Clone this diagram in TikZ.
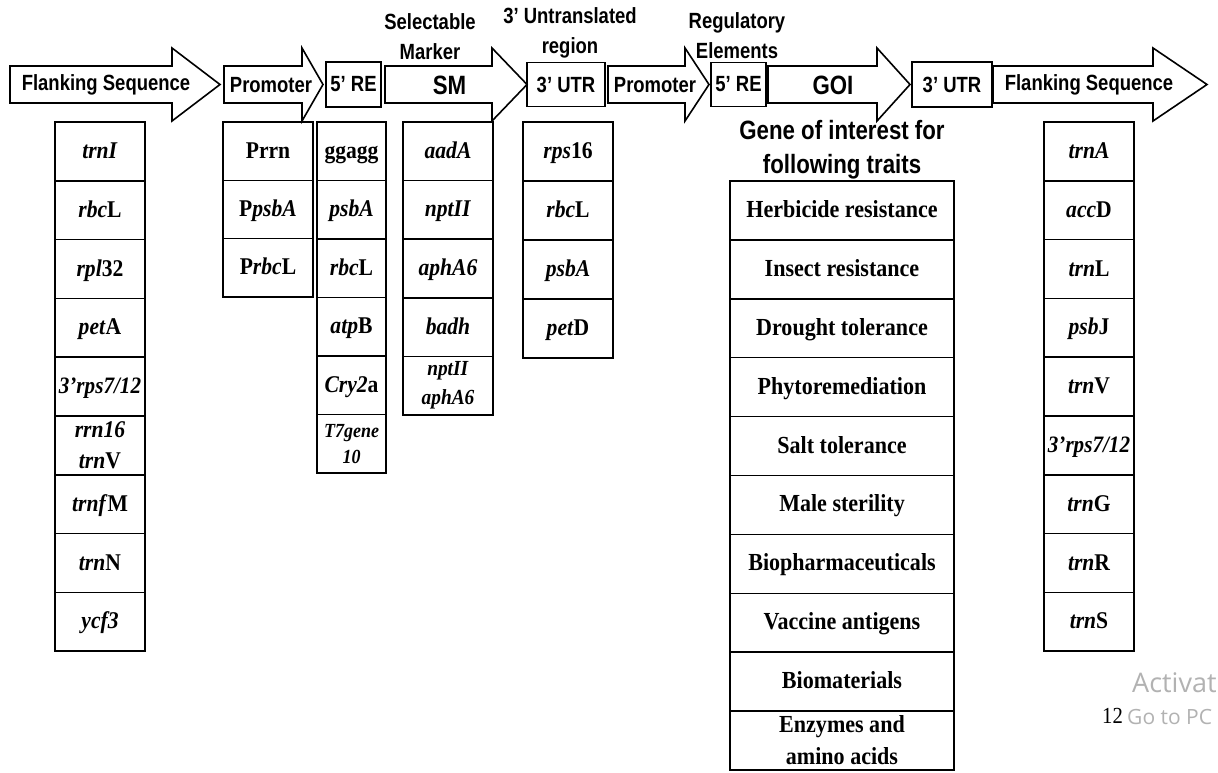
\documentclass[tikz,border=0pt]{standalone}
\usepackage{fontspec}
\setmainfont[FakeStretch=0.9]{Liberation Serif}
\newfontfamily\arialn[FakeStretch=0.84]{Liberation Sans}
\newfontfamily\wmfont{Open Sans}
\begin{document}
\begin{tikzpicture}[x=1pt,y=-1pt,
  cell/.style={draw, line width=1.5pt, minimum width=#1, inner sep=0pt, align=center,
    font=\fontsize{24}{31}\selectfont\bfseries},
  cell/.default=90pt,
  one/.style={text height=17.5pt, text depth=3.5pt},
  arr/.style={draw, line width=1.6pt, fill=white, line join=miter},
  lab/.style={inner sep=0pt, align=center, font=\arialn\bfseries\fontsize{22}{22}\selectfont},
  biglab/.style={inner sep=0pt, align=center, font=\arialn\bfseries\fontsize{26.5}{26.5}\selectfont},
  toplab/.style={inner sep=0pt, align=center, font=\arialn\bfseries\fontsize{22}{30}\selectfont},
  rebox/.style={draw, line width=1.6pt, inner sep=0pt, font=\arialn\bfseries\fontsize{22}{22}\selectfont}]
\useasboundingbox (0,0) rectangle (1218,772);
\fill[white] (0,0) rectangle (1218,772);

% ---------- top row of arrows and boxes ----------
\newcommand\genearrow[3]{\draw[arr] (#1,66) -- (#2,66) -- (#2,48) -- (#3,84.5) -- (#2,121) -- (#2,103) -- (#1,103) -- cycle;}
\genearrow{10}{172}{220}
\node[lab] (fs1) at (106,85) {Flanking Sequence};
\genearrow{224}{302}{323}
\node[lab] (pr1) at (271,85) {Promoter};
\node[rebox, minimum width=55pt, minimum height=45pt] (re1) at (353.5,84.5) {5’ RE};
\genearrow{385}{492}{527}
\node[biglab] (sm) at (449.5,85) {SM};
\node[rebox, minimum width=78pt, minimum height=44pt] (utr1) at (566,84.5) {3’ UTR};
\genearrow{608}{685}{709}
\node[lab] (pr2) at (655,85) {Promoter};
\node[rebox, minimum width=55pt, minimum height=44pt] (re2) at (738.5,84.5) {5’ RE};
\genearrow{768}{877}{910}
\node[biglab] (goi) at (833,85) {GOI};
\node[rebox, minimum width=80pt, minimum height=45pt] (utr2) at (952,84.5) {3’ UTR};
\genearrow{993}{1153}{1207}
\node[lab] (fs2) at (1089,85) {Flanking Sequence};

% ---------- labels above ----------
\node[toplab] (tsm) at (430,37) {Selectable\\Marker};
\node[toplab] (tutr) at (570,33) {3’ Untranslated\\region};
\node[toplab] (treg) at (737,36) {Regulatory\\Elements};

% ---------- column 1: flanking sequences ----------
\foreach \t [count=\i] in {{\textit{trnI}},{\textit{rbc}L},{\textit{rpl}32},{\textit{pet}A},
  {\fontsize{23.5}{30}\selectfont\textit{3’rps7/12}},{\textit{trnf}M},{\textit{trn}N},{\textit{ycf3}}}
  \node[cell, one, minimum height=58.8pt] (fa\i) at (100,{122+58.8*(\i-0.5+int(\i/6))}) {\t};
\node[cell, minimum height=58.8pt] (fa9) at (100,445.4) {\textit{rrn16}\\\textit{trn}V};

% ---------- column 2: promoters ----------
\foreach \t [count=\i] in {{Prrn},{P\textit{psbA}},{P\textit{rbc}L}}
  \node[cell, one, minimum height=58.3pt] (pa\i) at (268,{122+58.3*(\i-0.5)}) {\t};

% ---------- column 3: 5' RE ----------
\foreach \t [count=\i] in {{ggagg},{\textit{psbA}},{\textit{rbc}L},{\textit{atp}B},{\textit{Cry2}a}}
  \node[cell=69pt, one, minimum height=58.5pt] (ra\i) at (351.5,{122+58.5*(\i-0.5)}) {\t};
\node[cell=69pt, minimum height=58.5pt, font=\fontsize{20}{26}\selectfont\bfseries] (ra6) at (351.5,443.75) {\textit{T7gene}\\\textit{10}};

% ---------- column 4: selectable markers ----------
\foreach \t [count=\i] in {{\textit{aadA}},{\textit{nptII}},{\textit{aphA6}},{\textit{badh}}}
  \node[cell, one, minimum height=58.6pt] (sa\i) at (448,{122+58.6*(\i-0.5)}) {\t};
\node[cell, minimum height=58.6pt, font=\fontsize{21.5}{29}\selectfont\bfseries] (sa5) at (448,385.7) {\textit{nptII}\\\textit{aphA6}};

% ---------- column 5: 3' UTR ----------
\foreach \t [count=\i] in {{\textit{rps}16},{\textit{rbc}L},{\textit{psbA}},{\textit{pet}D}}
  \node[cell, one, minimum height=59pt] (ua\i) at (568,{122+59*(\i-0.5)}) {\t};

% ---------- column 6: genes of interest ----------
\node[biglab, font=\arialn\bfseries\fontsize{26.5}{34}\selectfont] (gtitle) at (842,150) {Gene of interest for\\following traits};
\foreach \t [count=\i] in {{Herbicide resistance},{Insect resistance},{Drought tolerance},{Phytoremediation},
  {Salt tolerance},{Male sterility},{Biopharmaceuticals},{Vaccine antigens},{Biomaterials}}
  \node[cell=224pt, one, minimum height=58.9pt, font=\fontsize{24.5}{30}\selectfont\bfseries] (ga\i) at (842,{181+58.9*(\i-0.5)}) {\t};
\node[cell=224pt, minimum height=58.9pt, font=\fontsize{24.5}{32}\selectfont\bfseries] (ga10) at (842,740.5) {Enzymes and\\amino acids};

% ---------- column 7: flanking sequences ----------
\foreach \t [count=\i] in {{\textit{trnA}},{\textit{acc}D},{\textit{trn}L},{\textit{psb}J},{\textit{trn}V},
  {\fontsize{23.5}{30}\selectfont\textit{3’rps7/12}},{\textit{trn}G},{\textit{trn}R},{\textit{trn}S}}
  \node[cell, one, minimum height=58.8pt] (fb\i) at (1089,{122+58.8*(\i-0.5)}) {\t};

% ---------- screen overlay text ----------
\node[anchor=west, inner sep=0pt, text=black!30, font=\wmfont\fontsize{27}{27}\selectfont] (wm1) at (1132,683) {Activat};
\node[anchor=west, inner sep=0pt, font=\fontsize{23}{23}\selectfont] (pgno) at (1102,716) {12};
\node[anchor=west, inner sep=0pt, text=black!30, font=\wmfont\fontsize{21}{21}\selectfont] (wm2) at (1127,717) {Go to PC};
\end{tikzpicture}
\end{document}
